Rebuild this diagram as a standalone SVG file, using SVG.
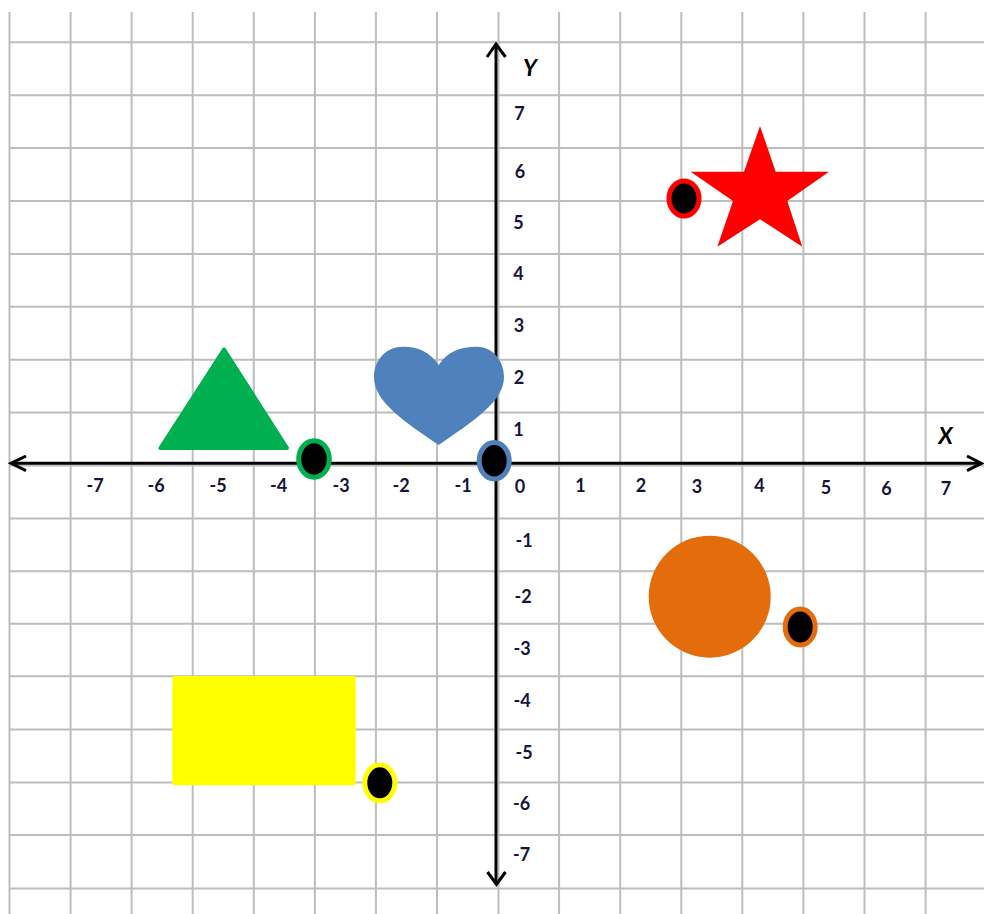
<svg xmlns="http://www.w3.org/2000/svg" width="984" height="914" viewBox="0 0 984 914">
<style>
.grid line{stroke:#bdbdbd;stroke-width:2}
.axis{stroke:#000;stroke-width:3;fill:none}
.lbl{font-family:Lato,"Open Sans",sans-serif;font-weight:bold;font-size:18px;fill:#15153a;text-anchor:middle}
.ax{font-family:Lato,"Open Sans",sans-serif;font-weight:bold;font-style:italic;font-size:23px;fill:#000;text-anchor:middle}
.dot{fill:#000;stroke-width:5}
</style>
<rect width="984" height="914" fill="#fff"/>
<g id="grid" class="grid">
<line x1="9.5" y1="12" x2="9.5" y2="914"/>
<line x1="70.6" y1="12" x2="70.6" y2="914"/>
<line x1="131.6" y1="12" x2="131.6" y2="914"/>
<line x1="192.7" y1="12" x2="192.7" y2="914"/>
<line x1="253.8" y1="12" x2="253.8" y2="914"/>
<line x1="314.9" y1="12" x2="314.9" y2="914"/>
<line x1="375.9" y1="12" x2="375.9" y2="914"/>
<line x1="437" y1="12" x2="437" y2="914"/>
<line x1="498.5" y1="12" x2="498.5" y2="914"/>
<line x1="559.1" y1="12" x2="559.1" y2="914"/>
<line x1="620.2" y1="12" x2="620.2" y2="914"/>
<line x1="681.3" y1="12" x2="681.3" y2="914"/>
<line x1="742.3" y1="12" x2="742.3" y2="914"/>
<line x1="803.4" y1="12" x2="803.4" y2="914"/>
<line x1="864.5" y1="12" x2="864.5" y2="914"/>
<line x1="925.6" y1="12" x2="925.6" y2="914"/>
<line x1="10" y1="42.3" x2="984" y2="42.3"/>
<line x1="10" y1="95.2" x2="984" y2="95.2"/>
<line x1="10" y1="148.1" x2="984" y2="148.1"/>
<line x1="10" y1="201" x2="984" y2="201"/>
<line x1="10" y1="253.9" x2="984" y2="253.9"/>
<line x1="10" y1="306.8" x2="984" y2="306.8"/>
<line x1="10" y1="359.7" x2="984" y2="359.7"/>
<line x1="10" y1="412.6" x2="984" y2="412.6"/>
<line x1="10" y1="465.5" x2="984" y2="465.5"/>
<line x1="10" y1="518.4" x2="984" y2="518.4"/>
<line x1="10" y1="571.3" x2="984" y2="571.3"/>
<line x1="10" y1="623.8" x2="984" y2="623.8"/>
<line x1="10" y1="676.2" x2="984" y2="676.2"/>
<line x1="10" y1="729.4" x2="984" y2="729.4"/>
<line x1="10" y1="782.5" x2="984" y2="782.5"/>
<line x1="10" y1="835" x2="984" y2="835"/>
<line x1="10" y1="888.5" x2="984" y2="888.5"/>
</g>
<g id="axes">
<line class="axis" x1="11" y1="463.3" x2="981" y2="463.3"/>
<path class="axis" d="M26,456 L11,463.3 L26,470.6"/>
<path class="axis" d="M967,456 L981.5,463.3 L967,470.6"/>
<line class="axis" x1="496" y1="45" x2="496" y2="883"/>
<path class="axis" d="M487,57 L496,44 L505.5,57"/>
<path class="axis" d="M487.5,872 L496.5,884.5 L505.5,872"/>
</g>
<g id="labels">
<text class="ax" x="530" y="76">Y</text>
<text class="ax" x="945.5" y="444">X</text>
<text class="lbl" x="95" y="492">-7</text>
<text class="lbl" x="156" y="492">-6</text>
<text class="lbl" x="218" y="492">-5</text>
<text class="lbl" x="278.5" y="492">-4</text>
<text class="lbl" x="341" y="492">-3</text>
<text class="lbl" x="401" y="492">-2</text>
<text class="lbl" x="463" y="492">-1</text>
<text class="lbl" x="520" y="493">0</text>
<text class="lbl" x="580.5" y="492">1</text>
<text class="lbl" x="641" y="492">2</text>
<text class="lbl" x="697" y="492.5">3</text>
<text class="lbl" x="759.5" y="491.5">4</text>
<text class="lbl" x="826" y="494">5</text>
<text class="lbl" x="886.5" y="495">6</text>
<text class="lbl" x="946" y="495">7</text>
<text class="lbl" x="519.5" y="120">7</text>
<text class="lbl" x="520" y="178">6</text>
<text class="lbl" x="518.5" y="228.5">5</text>
<text class="lbl" x="518.5" y="280">4</text>
<text class="lbl" x="519" y="332">3</text>
<text class="lbl" x="519" y="384">2</text>
<text class="lbl" x="518.5" y="436">1</text>
<text class="lbl" x="524" y="546.5">-1</text>
<text class="lbl" x="523" y="603">-2</text>
<text class="lbl" x="522" y="655">-3</text>
<text class="lbl" x="522" y="707">-4</text>
<text class="lbl" x="524" y="758.5">-5</text>
<text class="lbl" x="521.7" y="810">-6</text>
<text class="lbl" x="521.7" y="861">-7</text>
</g>
<g id="triangle">
<polygon points="224,349.5 160.5,448 287,448" fill="#00b050" stroke="#00b050" stroke-width="4" stroke-linejoin="round"/>
</g>
<g id="heart">
<path d="M438.7,365 C430,352 418,346.7 403.3,346.7 C386,346.7 374,360 374,377 C374,402 405,422 438.7,445 C472,422 504,402 504,377 C504,360 492,346.7 476.7,346.7 C460,346.7 447,352 438.7,365 Z" fill="#4f81bd"/>
</g>
<g id="star">
<polygon points="760,126 775.7,171.7 829,171.7 787.3,201 802.3,246.7 760,219.3 717.3,246.7 733,201 690.7,171.7 744,171.7" fill="#ff0000"/>
</g>
<g id="circle">
<circle cx="709.7" cy="596.7" r="61" fill="#e46c0a"/>
</g>
<g id="rectangle">
<rect x="172.3" y="676" width="183.4" height="109.3" rx="2" fill="#ffff00"/>
</g>
<g id="dot-star"><ellipse class="dot" cx="684" cy="198.5" rx="15" ry="17.5" stroke="#ff0000" stroke-width="5.5"/></g>
<g id="dot-triangle"><ellipse class="dot" cx="314" cy="459" rx="15.3" ry="18.3" stroke="#00b050"/></g>
<g id="dot-heart"><ellipse class="dot" cx="494.2" cy="460.8" rx="15" ry="18.2" stroke="#4f81bd"/></g>
<g id="dot-circle"><ellipse class="dot" cx="800.2" cy="627" rx="15" ry="18" stroke="#e46c0a"/></g>
<g id="dot-rectangle"><ellipse class="dot" cx="379.8" cy="782.8" rx="15" ry="18" stroke="#ffff00"/></g>
</svg>
